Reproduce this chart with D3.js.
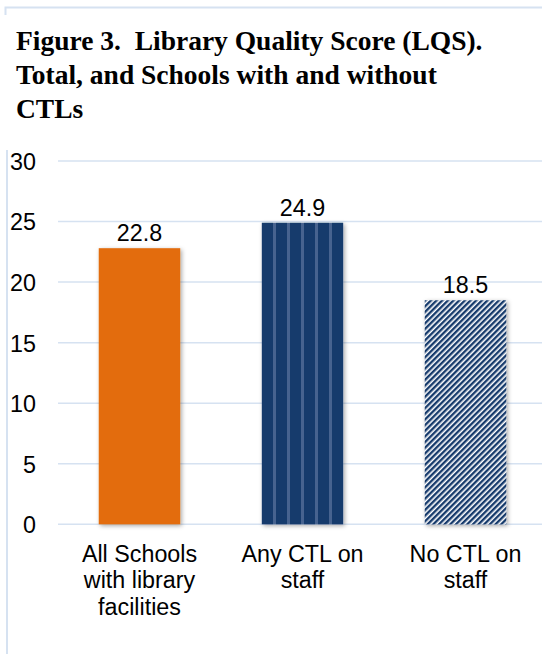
<!DOCTYPE html>
<html>
<head>
<meta charset="utf-8">
<script src="https://cdn.jsdelivr.net/npm/d3@7"></script>
<style>
  html, body { margin: 0; padding: 0; background: #fff; }
  svg { display: block; }
  .title { font-family: "Liberation Serif", "Times New Roman", serif; font-weight: bold; font-size: 27.5px; fill: #000; white-space: pre; }
  .lbl { font-family: "Liberation Sans", Arial, sans-serif; font-size: 23.3px; fill: #000; }
</style>
</head>
<body>
<svg id="chart" width="542" height="654"></svg>
<script>
// Chart data
const categories = ["All Schools with library facilities", "Any CTL on staff", "No CTL on staff"];
const categoryLines = [["All Schools", "with library", "facilities"], ["Any CTL on", "staff"], ["No CTL on", "staff"]];
const scores = [22.8, 24.9, 18.5];
const yTicks = [0, 5, 10, 15, 20, 25, 30];
const titleLines = ["Figure 3.  Library Quality Score (LQS).", "Total, and Schools with and without", "CTLs"];
const fills = ["url(#solidOrange)", "url(#vertStripes)", "url(#diagStripes)"];

const svg = d3.select("#chart");
const W = 542, H = 654;

// Patterns and bar shadow
const defs = svg.append("defs");
const solid = defs.append("pattern").attr("id", "solidOrange")
  .attr("patternUnits", "userSpaceOnUse").attr("width", 10).attr("height", 10);
solid.append("rect").attr("width", 10).attr("height", 10).attr("fill", "#e36c0a");

const vs = defs.append("pattern").attr("id", "vertStripes")
  .attr("patternUnits", "userSpaceOnUse").attr("width", 14).attr("height", 10)
  .attr("x", 262);
vs.append("rect").attr("width", 14).attr("height", 10).attr("fill", "#163a6c");
vs.append("rect").attr("x", 11).attr("width", 3).attr("height", 10).attr("fill", "#46648f");

const ds = defs.append("pattern").attr("id", "diagStripes")
  .attr("patternUnits", "userSpaceOnUse").attr("width", 4.0).attr("height", 10)
  .attr("patternTransform", "rotate(45)");
ds.append("rect").attr("width", 4.0).attr("height", 10).attr("fill", "#ffffff");
ds.append("rect").attr("width", 2.4).attr("height", 10).attr("fill", "#163a6c");

const f = defs.append("filter").attr("id", "shadow")
  .attr("x", "-20%").attr("y", "-10%").attr("width", "140%").attr("height", "120%");
f.append("feDropShadow").attr("dx", 1.5).attr("dy", 1.5).attr("stdDeviation", 2)
  .attr("flood-color", "#000").attr("flood-opacity", 0.35);

// Frame lines
const frame = "#d6e2f1";
svg.append("path").attr("d", "M5.5,15 V7.5 H542").attr("fill", "none")
  .attr("stroke", frame).attr("stroke-width", 2);
svg.append("line").attr("x1", 7).attr("x2", 7).attr("y1", 150).attr("y2", H)
  .attr("stroke", frame).attr("stroke-width", 2);

// Title
svg.append("g").selectAll("text").data(titleLines).join("text")
  .attr("class", "title")
  .attr("x", 16).attr("y", (d, i) => 50 + i * 34)
  .text(d => d);

// Scales
const y = d3.scaleLinear().domain([0, 30]).range([524.3, 161]);
const x = d3.scaleBand().domain(categories).range([58, 547])
  .paddingInner(0.5).paddingOuter(0.25);

// Gridlines
svg.append("g").selectAll("line").data(yTicks).join("line")
  .attr("x1", 58).attr("x2", W)
  .attr("y1", d => y(d)).attr("y2", d => y(d))
  .attr("stroke", frame).attr("stroke-width", 1.5);

// Y axis labels
const yAxis = svg.append("g").attr("transform", "translate(36,0)")
  .call(d3.axisLeft(y).tickValues(yTicks).tickSize(0).tickPadding(0));
yAxis.select(".domain").remove();
yAxis.selectAll("text").attr("class", "lbl").attr("font-family", null).attr("font-size", null)
  .attr("fill", "#000").attr("dy", "0.36em");

// Bars
svg.append("g").selectAll("rect").data(scores).join("rect")
  .attr("x", (d, i) => x(categories[i]))
  .attr("width", x.bandwidth())
  .attr("y", d => y(d))
  .attr("height", d => y(0) - y(d))
  .attr("fill", (d, i) => fills[i])
  .attr("filter", "url(#shadow)");

// Value labels
svg.append("g").selectAll("text").data(scores).join("text")
  .attr("class", "lbl")
  .attr("text-anchor", "middle")
  .attr("x", (d, i) => x(categories[i]) + x.bandwidth() / 2)
  .attr("y", d => y(d) - 7)
  .text(d => d.toFixed(1));

// Category labels
const xAxis = svg.append("g").attr("transform", `translate(0,${y(0)})`)
  .call(d3.axisBottom(x).tickSize(0).tickFormat(""));
xAxis.select(".domain").remove();
xAxis.selectAll(".tick").each(function (d, i) {
  const t = d3.select(this).append("text").attr("class", "lbl")
    .attr("text-anchor", "middle").attr("fill", "#000");
  categoryLines[i].forEach((line, j) => {
    t.append("tspan").attr("x", 0).attr("y", 37.5 + j * 26.7).text(line);
  });
});
</script>
</body>
</html>
